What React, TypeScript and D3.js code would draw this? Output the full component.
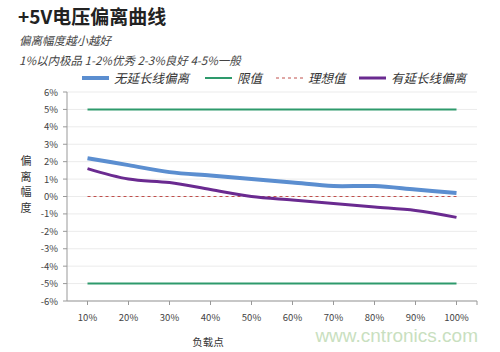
import React from "react";
import * as d3 from "d3";

const categories = ["10%", "20%", "30%", "40%", "50%", "60%", "70%", "80%", "90%", "100%"];
const noExtension = [2.2, 1.8, 1.4, 1.2, 1.0, 0.8, 0.6, 0.6, 0.4, 0.2];
const withExtension = [1.6, 1.0, 0.8, 0.4, 0.0, -0.2, -0.4, -0.6, -0.8, -1.2];
const upperLimit = [5, 5, 5, 5, 5, 5, 5, 5, 5, 5];
const lowerLimit = [-5, -5, -5, -5, -5, -5, -5, -5, -5, -5];
const ideal = [0, 0, 0, 0, 0, 0, 0, 0, 0, 0];
const yTicks = [6, 5, 4, 3, 2, 1, 0, -1, -2, -3, -4, -5, -6];

const FONT = "'Noto Sans CJK SC', 'Noto Sans', sans-serif";

export default function App() {
  const W = 500, H = 352;
  const left = 67, right = 477, top = 92, bottom = 301;
  const x = d3.scaleBand<string>().domain(categories).range([left, right]);
  const y = d3.scaleLinear().domain([-6, 6]).range([bottom, top]);
  const cx = (c: string) => (x(c) as number) + x.bandwidth() / 2;
  const line = d3.line<number>().x((_, i) => cx(categories[i])).y((d) => y(d));
  const smooth = d3.line<number>().x((_, i) => cx(categories[i])).y((d) => y(d)).curve(d3.curveCatmullRom.alpha(0.5));

  const legend = [
    { label: "无延长线偏离", color: "#5b8ed0", w: 4, dash: "", sx: 82 },
    { label: "限值", color: "#2e9a6c", w: 2, dash: "", sx: 205 },
    { label: "理想值", color: "#c0504d", w: 1, dash: "3,3", sx: 276 },
    { label: "有延长线偏离", color: "#6a2a90", w: 3, dash: "", sx: 359 },
  ];

  return (
    <svg width={W} height={H} style={{ position: "absolute", left: 0, top: 0, background: "#fff" }} fontFamily={FONT}>
      <rect width={W} height={H} fill="#fff" />
      <text x={18} y={24} fontSize={19} fontWeight="bold" fill="#222">+5V电压偏离曲线</text>
      <text x={19} y={45} fontSize={11.5} fontStyle="italic" fill="#444">偏离幅度越小越好</text>
      <text x={19} y={65} fontSize={11.5} fontStyle="italic" fill="#444">1%以内极品 1-2%优秀  2-3%良好 4-5%一般</text>

      {legend.map((l) => (
        <g key={l.label}>
          <line x1={l.sx} x2={l.sx + 27} y1={78} y2={78} stroke={l.color} strokeWidth={l.w} strokeDasharray={l.dash} />
          <text x={l.sx + 32} y={82.5} fontSize={12.5} fontStyle="italic" fill="#333">{l.label}</text>
        </g>
      ))}

      {yTicks.map((t) => (
        <g key={t}>
          <line x1={left} x2={right} y1={y(t)} y2={y(t)} stroke="#ebebeb" strokeWidth={1} />
          <text x={left - 9} y={y(t) + 3.5} fontSize={9.5} textAnchor="end" fill="#444">{t}%</text>
          <line x1={left - 4} x2={left} y1={y(t)} y2={y(t)} stroke="#999" />
        </g>
      ))}
      <line x1={left} x2={left} y1={top} y2={bottom} stroke="#999" />
      <line x1={left} x2={right} y1={bottom} y2={bottom} stroke="#999" />
      {categories.map((c) => (
        <g key={c}>
          <line x1={cx(c)} x2={cx(c)} y1={bottom} y2={bottom + 4} stroke="#999" />
          <text x={cx(c)} y={bottom + 20} fontSize={9.5} textAnchor="middle" fill="#444">{c}</text>
        </g>
      ))}
      <line x1={right} x2={right} y1={bottom} y2={bottom + 4} stroke="#999" />

      {["偏", "离", "幅", "度"].map((ch, i) => (
        <text key={ch} x={26} y={165 + i * 15.5} fontSize={11} textAnchor="middle" fill="#333">{ch}</text>
      ))}
      <text x={208} y={346} fontSize={10.5} textAnchor="middle" fill="#333">负载点</text>

      <path d={line(upperLimit) || ""} fill="none" stroke="#2e9a6c" strokeWidth={2} />
      <path d={line(lowerLimit) || ""} fill="none" stroke="#2e9a6c" strokeWidth={2} />
      <path d={line(ideal) || ""} fill="none" stroke="#c0504d" strokeWidth={1} strokeDasharray="3,3" />
      <path d={smooth(noExtension) || ""} fill="none" stroke="#5b8ed0" strokeWidth={4} strokeLinejoin="round" />
      <path d={smooth(withExtension) || ""} fill="none" stroke="#6a2a90" strokeWidth={3} strokeLinejoin="round" />

      <text x={478} y={342} fontSize={19} textAnchor="end" fill="#c9dfc0" fontFamily="'Liberation Sans', Arial, sans-serif">www.cntronics.com</text>
    </svg>
  );
}
